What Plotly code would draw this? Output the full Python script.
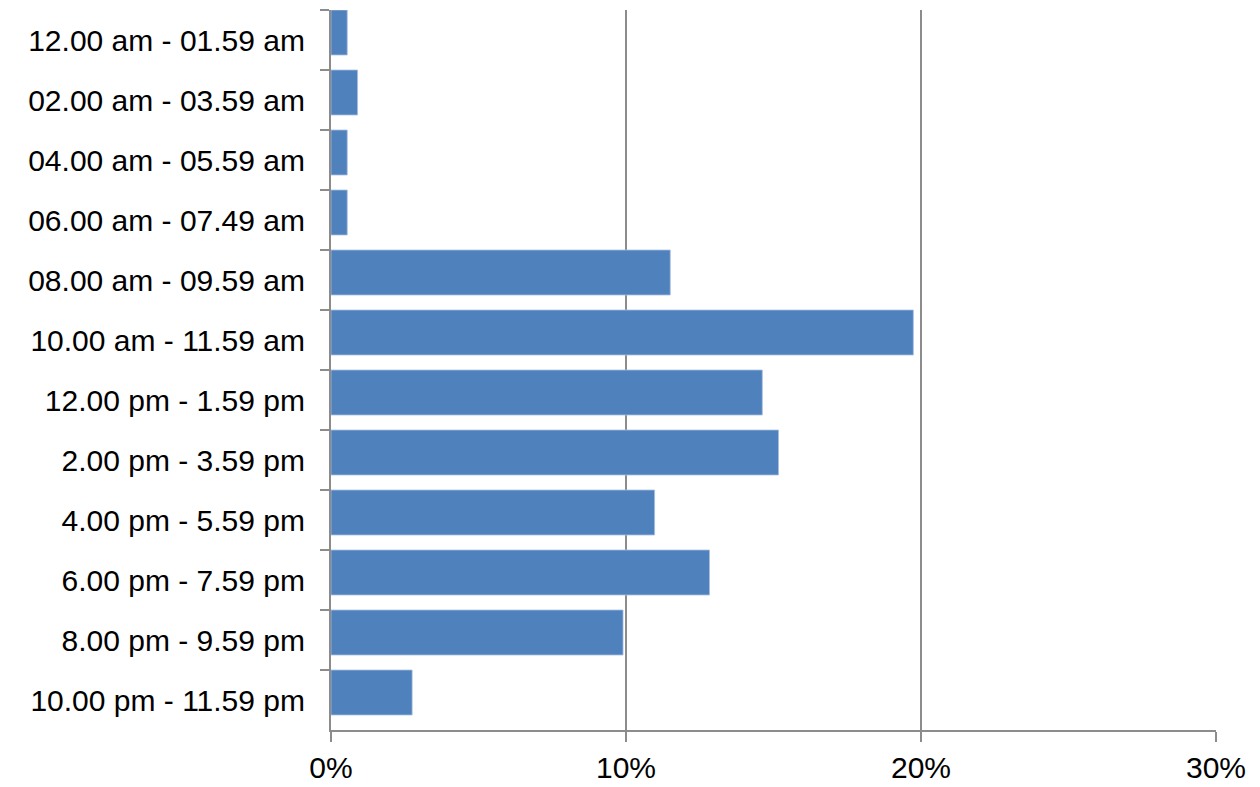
import plotly.graph_objects as go

# Share of activity by two-hour time slot
time_slots = [
    "12.00 am - 01.59 am",
    "02.00 am - 03.59 am",
    "04.00 am - 05.59 am",
    "06.00 am - 07.49 am",
    "08.00 am - 09.59 am",
    "10.00 am - 11.59 am",
    "12.00 pm - 1.59 pm",
    "2.00 pm - 3.59 pm",
    "4.00 pm - 5.59 pm",
    "6.00 pm - 7.59 pm",
    "8.00 pm - 9.59 pm",
    "10.00 pm - 11.59 pm",
]
share = [0.0055, 0.009, 0.0055, 0.0055, 0.115, 0.1974, 0.1462, 0.1517, 0.1097, 0.1283, 0.099, 0.0275]

x_tick_values = [0, 0.1, 0.2, 0.3]
x_tick_labels = ["0%", "10%", "20%", "30%"]

axis_gray = "#8c8c8c"
label_font = dict(family="Liberation Sans, Arial, sans-serif", size=30, color="#000000")

# Bars sit flush against the upper boundary of each category slot
fig = go.Figure(
    go.Bar(
        x=share,
        y=time_slots,
        orientation="h",
        offset=-0.5,
        width=0.75,
        marker=dict(color="#4F81BD", line=dict(color="#a9bfdf", width=0.8)),
        hoverinfo="x+y",
    )
)

fig.update_layout(
    width=1260,
    height=787,
    margin=dict(l=331, r=44, t=10, b=57),
    paper_bgcolor="white",
    plot_bgcolor="white",
    showlegend=False,
    font=label_font,
)

fig.update_xaxes(
    range=[0, 0.30],
    tickvals=x_tick_values,
    ticktext=x_tick_labels,
    showgrid=True,
    gridcolor=axis_gray,
    gridwidth=2,
    zeroline=False,
    showline=True,
    linecolor=axis_gray,
    linewidth=2,
    ticks="outside",
    ticklen=10,
    tickwidth=2,
    tickcolor=axis_gray,
    ticklabelstandoff=0,
    tickfont=label_font,
    automargin=False,
)

fig.update_yaxes(
    type="category",
    autorange="reversed",
    showgrid=False,
    zeroline=False,
    showline=True,
    linecolor=axis_gray,
    linewidth=2,
    ticks="outside",
    tickson="boundaries",
    ticklen=9,
    tickwidth=2,
    tickcolor=axis_gray,
    ticklabelstandoff=18,
    tickfont=label_font,
    automargin=False,
)

fig.write_html("out.html")
